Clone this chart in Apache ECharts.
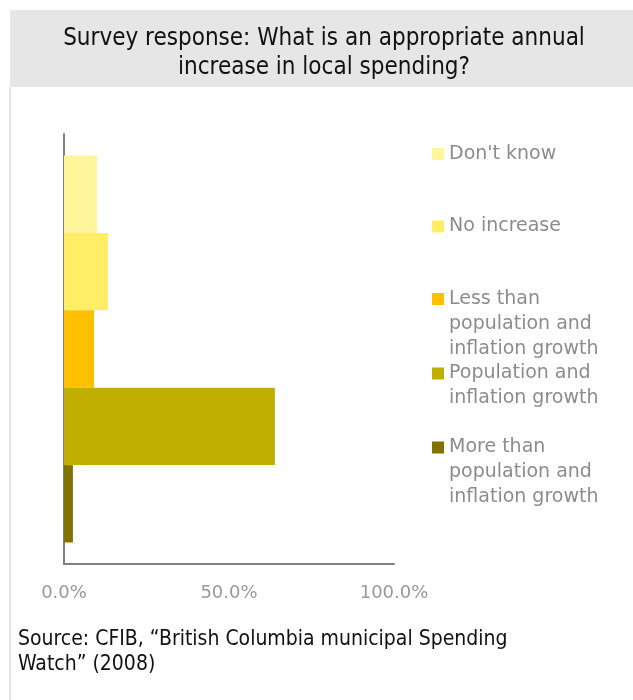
<!DOCTYPE html>
<html>
<head>
<meta charset="utf-8">
<script src="https://cdn.jsdelivr.net/npm/echarts@6/dist/echarts.min.js"></script>
<style>html,body{margin:0;padding:0;background:#fff}#c{width:633px;height:700px}</style>
</head>
<body>
<div id="c"></div>
<script>
var categories = ['Response'];
var seriesNames = ["Don't know", 'No increase', 'Less than population and inflation growth', 'Population and inflation growth', 'More than population and inflation growth'];
var legendLabels = ["Don't know", 'No increase', 'Less than\npopulation and\ninflation growth', 'Population and\ninflation growth', 'More than\npopulation and\ninflation growth'];
var values = [10.0, 13.3, 9.1, 63.9, 2.7];
var colors = ['#FFF59A', '#FFEE66', '#FFC000', '#C0AF00', '#807300'];
var xTicks = [0, 50, 100];

var chart = echarts.init(document.getElementById('c'), null, {renderer: 'canvas'});
var legendCenters = [154, 226.5, 299, 373.5, 447.5];
var LH = 25;
var legends = seriesNames.map(function (n, i) {
  var lines = legendLabels[i].split('\n').length;
  var H = (2 * lines - 1) * LH;
  var pad = '';
  for (var k = 0; k < lines - 1; k++) pad += ' \n';
  return {
    data: [n], left: 432, top: legendCenters[i] - H / 2, padding: 0,
    orient: 'vertical', icon: 'rect', itemWidth: 12, itemHeight: 12,
    selectedMode: false,
    formatter: function () { return pad + legendLabels[i]; },
    textStyle: {color: '#8c8c8c', fontSize: 19, fontFamily: 'DejaVu Sans', lineHeight: LH}
  };
});
var series = seriesNames.map(function (n, i) {
  return {
    name: n, type: 'bar', data: [values[i]],
    itemStyle: {color: colors[i]},
    barGap: '0%', barCategoryGap: '10%'
  };
});
chart.setOption({
  animation: false,
  color: colors,
  graphic: [
    {type: 'rect', shape: {x: 10, y: 10, width: 640, height: 77}, style: {fill: '#e6e6e6'}, z: -10},
    {type: 'rect', shape: {x: 9, y: 87, width: 2, height: 620}, style: {fill: '#e6e6e6'}, z: -10}
  ],
  title: [{
    text: 'Survey response: What is an appropriate annual\nincrease in local spending?',
    left: 324, top: 24, textAlign: 'center', padding: 0,
    textStyle: {fontFamily: 'DejaVu Sans Condensed, DejaVu Sans', fontWeight: 'normal', fontSize: 24, lineHeight: 29, color: '#111'}
  }, {
    text: 'Source: CFIB, \u201cBritish Columbia municipal Spending\nWatch\u201d (2008)',
    left: 18, top: 627, padding: 0,
    textStyle: {fontFamily: 'DejaVu Sans Condensed, DejaVu Sans', fontWeight: 'normal', fontSize: 21, lineHeight: 25, color: '#111'}
  }],
  legend: legends,
  grid: {left: 64, right: 239, top: 134, bottom: 136, containLabel: false},
  xAxis: {
    type: 'value', min: xTicks[0], max: xTicks[xTicks.length - 1], interval: 50,
    axisLine: {show: true, lineStyle: {color: '#808080', width: 2}},
    axisTick: {show: false}, splitLine: {show: false},
    axisLabel: {formatter: function (v) { return v.toFixed(1) + '%'; }, color: '#999999', fontSize: 18, fontFamily: 'DejaVu Sans', margin: 20}
  },
  yAxis: {
    type: 'category', data: categories,
    axisLine: {show: true, lineStyle: {color: '#808080', width: 2}},
    axisTick: {show: false}, axisLabel: {show: false}
  },
  series: series
});
</script>
</body>
</html>
